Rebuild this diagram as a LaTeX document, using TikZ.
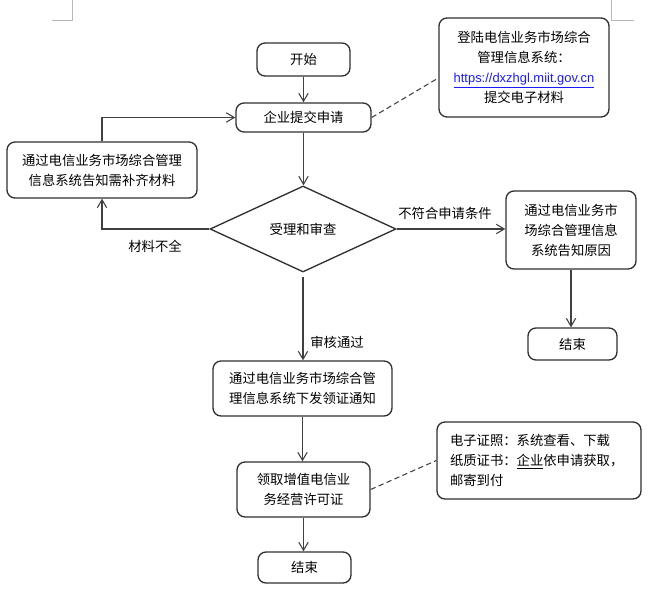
\documentclass[tikz,border=0pt]{standalone}
\usepackage{fontspec}
\setmainfont{Noto Sans CJK SC}
\newfontfamily\urlfont{Liberation Sans}
\usetikzlibrary{arrows.meta,shapes.geometric,calc}
\definecolor{linec}{HTML}{404040}
\definecolor{boxc}{HTML}{303030}
\definecolor{urlc}{HTML}{1A1AFF}
\tikzset{
  flowbox/.style={draw=boxc, line width=1pt, rounded corners=6pt, inner sep=0pt,
    align=center, font=\fontsize{10pt}{15pt}\selectfont},
  decision/.style={draw=boxc, line width=1pt, diamond, inner sep=0pt,
    font=\fontsize{10pt}{15pt}\selectfont},
  lbl/.style={inner sep=0pt, font=\fontsize{10pt}{15pt}\selectfont},
  flow/.style={draw=linec, line width=0.8pt, -{Straight Barb[length=6pt,width=7pt]}},
  note/.style={draw=linec, line width=0.8pt, dash pattern=on 4pt off 2.5pt},
  crop/.style={draw=gray!55, line width=0.7pt}
}
\begin{document}
\begin{tikzpicture}[x=0.75pt,y=-0.75pt]
\useasboundingbox (0,0) rectangle (655,589);
% crop marks
\draw[crop] (72,0) -- (72,20) -- (52,20);
\draw[crop] (611,0) -- (611,20) -- (634,20);

% nodes
\node[flowbox, minimum width=93*0.75pt, minimum height=33*0.75pt] (start) at (303.5,59.5) {开始};
\node[flowbox, minimum width=135*0.75pt, minimum height=29*0.75pt] (submit) at (303.5,117.5) {企业提交申请};
\node[flowbox, minimum width=170*0.75pt, minimum height=99*0.75pt] (login) at (524,67.5)
  {登陆电信业务市场综合\\管理信息系统：\\{\urlfont\fontsize{9.7pt}{15pt}\selectfont\color{urlc}\underline{https://dxzhgl.miit.gov.cn}}\\提交电子材料};
\node[flowbox, minimum width=190*0.75pt, minimum height=56*0.75pt] (supp) at (102,170)
  {通过电信业务市场综合管理\\信息系统告知需补齐材料};
\node[decision, minimum width=186*0.75pt, minimum height=86*0.75pt] (review) at (303,229) {受理和审查};
\node[flowbox, minimum width=130*0.75pt, minimum height=78*0.75pt] (reject) at (571,230)
  {通过电信业务市\\场综合管理信息\\系统告知原因};
\node[flowbox, minimum width=89*0.75pt, minimum height=32*0.75pt] (end1) at (572.5,344) {结束};
\node[flowbox, minimum width=179*0.75pt, minimum height=55*0.75pt] (notify) at (302.5,388.5)
  {通过电信业务市场综合管\\理信息系统下发领证通知};
\node[flowbox, minimum width=133*0.75pt, minimum height=55*0.75pt] (license) at (303.5,489.5)
  {领取增值电信业\\务经营许可证};
\node[flowbox, align=left, text width=178*0.75pt, minimum width=204*0.75pt, minimum height=77*0.75pt, inner xsep=13*0.75pt] (memo) at (539,460.5)
  {电子证照：系统查看、下载\\纸质证书：\underline{企业}依申请获取，\\邮寄到付};
\node[flowbox, minimum width=93*0.75pt, minimum height=31*0.75pt] (end2) at (304.5,567.5) {结束};

% labels
\node[lbl] (l1) at (155,246) {材料不全};
\node[lbl] (l2) at (445,213) {不符合申请条件};
\node[lbl] (l3) at (337,342) {审核通过};

% connectors
\draw[flow] (start.south) -- (start.south |- submit.north);
\draw[note] (submit.east) -- ($(login.west)+(0,10.5)$);
\draw[flow] (submit.south) -- (submit.south |- review.north);
\draw[flow] (review.west) -| (supp.south);
\draw[flow] (supp.north) |- (submit.west);
\draw[flow] (review.east) -- (review.east -| reject.west);
\draw[flow] (reject.south) -- (reject.south |- end1.north);
\draw[flow, shorten <=4*0.75pt] (review.south) -- (review.south |- notify.north);
\draw[flow] (notify.south) -- (notify.south |- license.north);
\draw[note] (license.east) -- (memo.west);
\draw[flow] (license.south) -- (license.south |- end2.north);
\end{tikzpicture}
\end{document}
